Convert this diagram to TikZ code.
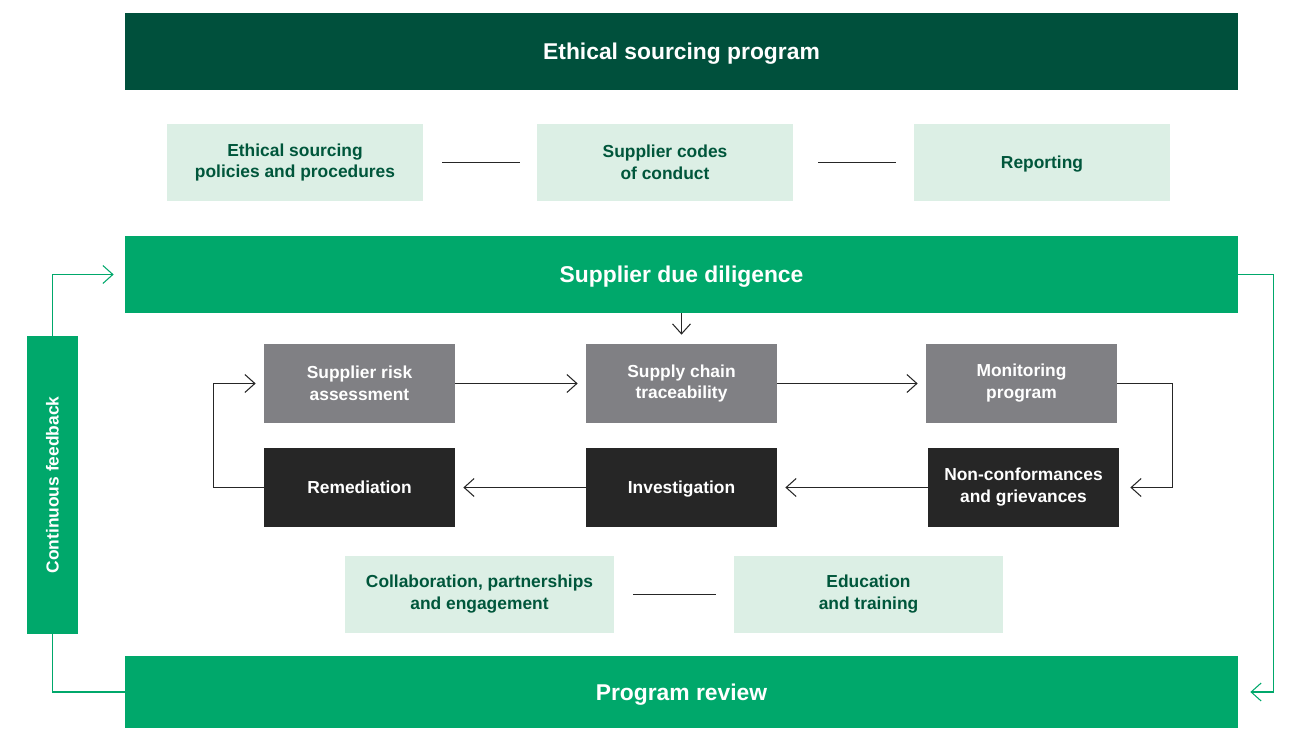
\documentclass[tikz,border=0pt]{standalone}
\usepackage{fontspec}
\setmainfont{Liberation Sans}
\usetikzlibrary{arrows.meta}
\definecolor{deepgreen}{HTML}{00503C}
\definecolor{brightgreen}{HTML}{00A86B}
\definecolor{mint}{HTML}{DCEFE5}
\definecolor{mintText}{HTML}{00563B}
\definecolor{stepgray}{HTML}{808084}
\definecolor{stepdark}{HTML}{262626}
\tikzset{
  sz/.style 2 args={minimum width=#1*0.02cm, minimum height=#2*0.02cm, inner sep=0pt},
  banner/.style={text=white, text height=9.3pt, text depth=0pt, font=\bfseries\fontsize{13}{16}\selectfont},
  pill/.style={fill=mint, text=mintText, align=center, font=\bfseries\fontsize{9.9}{12.5}\selectfont},
  stepbox/.style={text=white, align=center, font=\bfseries\fontsize{9.9}{12.5}\selectfont},
  oneline/.style={text height=7.1pt, text depth=0pt},
  link/.style={draw=stepdark, line width=0.6pt},
  flow/.style={draw=stepdark, line width=0.6pt, -{Straight Barb[length=2mm,width=3.6mm,line width=0.6pt]}},
  loop/.style={draw=brightgreen, line width=0.6pt, -{Straight Barb[length=2mm,width=3.6mm,line width=0.6pt]}}
}
\begin{document}
\begin{tikzpicture}[x=0.02cm, y=-0.02cm]
  \useasboundingbox (0,0) rectangle (1290,729);
  % banners
  \node[banner, fill=deepgreen, sz={1113}{77}] (program) at (681.5,51.5) {Ethical sourcing program};
  \node[banner, fill=brightgreen, sz={1113}{77}] (dd) at (681.5,274.5) {Supplier due diligence};
  \node[banner, fill=brightgreen, sz={1113}{72}] (review) at (681.5,692) {Program review};
  \node[banner, fill=brightgreen, sz={298}{51}, rotate=90, text height=7.1pt, font=\bfseries\fontsize{9.9}{12}\selectfont] (fb) at (52.5,485) {Continuous feedback};
  % program elements
  \node[pill, sz={256}{77}] (pol) at (295,162.5) {Ethical sourcing\\policies and procedures};
  \node[pill, sz={256}{77}] (codes) at (665,162.5) {Supplier codes\\of conduct};
  \node[pill, oneline, sz={256}{77}] (rep) at (1042,162.5) {Reporting};
  \node[pill, sz={269}{77}] (collab) at (479.5,594.5) {Collaboration, partnerships\\and engagement};
  \node[pill, sz={269}{77}] (edu) at (868.5,594.5) {Education\\and training};
  % due diligence steps
  \node[stepbox, fill=stepgray, sz={191}{79}] (risk) at (359.5,383.5) {Supplier risk\\assessment};
  \node[stepbox, fill=stepgray, sz={191}{79}] (trace) at (681.5,383.5) {Supply chain\\traceability};
  \node[stepbox, fill=stepgray, sz={191}{79}] (mon) at (1021.5,383.5) {Monitoring\\program};
  \node[stepbox, oneline, fill=stepdark, sz={191}{79}] (rem) at (359.5,487.5) {Remediation};
  \node[stepbox, oneline, fill=stepdark, sz={191}{79}] (inv) at (681.5,487.5) {Investigation};
  \node[stepbox, fill=stepdark, sz={191}{79}] (ncg) at (1023.5,487.5) {Non-conformances\\and grievances};
  % plain links
  \draw[link, shorten <=19*0.02cm, shorten >=17*0.02cm] (pol) -- (codes);
  \draw[link, shorten <=25*0.02cm, shorten >=18*0.02cm] (codes) -- (rep);
  \draw[link, shorten <=19*0.02cm, shorten >=18*0.02cm] (collab) -- (edu);
  % flow
  \draw[flow, shorten >=9*0.02cm] (dd) -- (trace);
  \draw[flow, shorten >=8*0.02cm] (risk) -- (trace);
  \draw[flow, shorten >=8*0.02cm] (trace) -- (mon);
  \draw[flow, shorten >=11*0.02cm] (mon.east) -- ++(55,0) |- (ncg.east);
  \draw[flow, shorten >=8*0.02cm] (ncg) -- (inv);
  \draw[flow, shorten >=8*0.02cm] (inv) -- (rem);
  \draw[flow, shorten >=8*0.02cm] (rem.west) -- ++(-50,0) |- (risk.west);
  % feedback loop
  \draw[loop, shorten >=11*0.02cm] (fb.east) |- (dd.west);
  \draw[draw=brightgreen, line width=0.6pt] (fb.west) |- (review.west);
  \draw[loop, shorten >=12*0.02cm] (dd.east) -- ++(35,0) |- (review.east);
\end{tikzpicture}
\end{document}
